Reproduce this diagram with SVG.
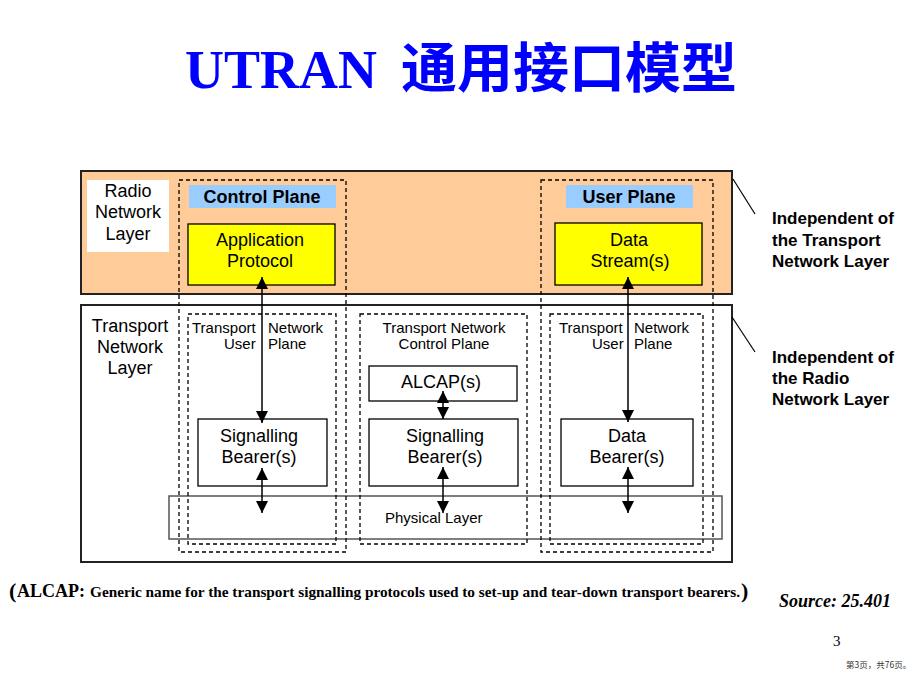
<svg xmlns="http://www.w3.org/2000/svg" width="920" height="690" viewBox="0 0 920 690">
<defs>
<style>
.t{font-family:"Liberation Sans",Arial,sans-serif;fill:#000}
.m{font-size:18px;text-anchor:middle}
.s{font-size:15px}
.b{font-weight:bold}
.dash{fill:none;stroke:#000;stroke-width:1.3;stroke-dasharray:4,3}
.box{fill:#fff;stroke:#000;stroke-width:1.3}
.yel{fill:#FFFF00;stroke:#000;stroke-width:1.3}
.lbl{fill:#99CCFF}
.arr{stroke:#000;stroke-width:1.5;fill:none;marker-start:url(#ah);marker-end:url(#ah)}
</style>
<marker id="ah" markerUnits="userSpaceOnUse" markerWidth="12" markerHeight="12" refX="12" refY="6" orient="auto-start-reverse" viewBox="0 0 12 12">
<path d="M0,0 L12,6 L0,12 Z" fill="#000"/>
</marker>
</defs>
<rect width="920" height="690" fill="#fff"/>

<g id="title">
<text x="185" y="88" font-family="Liberation Serif,'Times New Roman',serif" font-weight="bold" font-size="54" fill="#0000FF">UTRAN</text>
<text x="401" y="88" font-family="'Noto Sans CJK SC',sans-serif" font-weight="bold" font-size="54" fill="#0000FF" textLength="336" lengthAdjust="spacingAndGlyphs">通用接口模型</text>
</g>

<g id="radio-layer">
<rect x="81" y="171" width="651" height="123" fill="#FFCC99" stroke="#222" stroke-width="2"/>
<rect x="87" y="180" width="82" height="72" fill="#fff"/>
<text class="t m" x="128" y="197">Radio</text>
<text class="t m" x="128" y="218">Network</text>
<text class="t m" x="128" y="240">Layer</text>
</g>

<g id="transport-layer">
<rect x="81" y="305" width="651" height="257" fill="none" stroke="#222" stroke-width="2"/>
<text class="t m" x="130" y="332">Transport</text>
<text class="t m" x="130" y="353">Network</text>
<text class="t m" x="130" y="374">Layer</text>
</g>

<g id="physical-layer">
<rect x="169" y="496" width="553" height="43" fill="none" stroke="#555" stroke-width="1.5"/>
<text class="t s" x="385" y="523">Physical Layer</text>
</g>

<g id="control-plane">
<rect class="dash" x="179" y="180" width="167" height="372"/>
<rect class="lbl" x="189" y="185" width="147" height="23"/>
<text class="t m b" x="262" y="203">Control Plane</text>
</g>

<g id="user-plane">
<rect class="dash" x="541" y="180" width="172" height="372"/>
<rect class="lbl" x="566" y="185" width="127" height="23"/>
<text class="t m b" x="629" y="203">User Plane</text>
</g>

<g id="application-protocol">
<rect class="yel" x="188" y="224" width="147" height="61"/>
<text class="t m" x="260" y="246">Application</text>
<text class="t m" x="260" y="267">Protocol</text>
</g>

<g id="data-streams">
<rect class="yel" x="555" y="223" width="147" height="62"/>
<text class="t m" x="629" y="246">Data</text>
<text class="t m" x="630" y="267">Stream(s)</text>
</g>

<g id="tn-user-plane-left">
<rect class="dash" x="188" y="314" width="148" height="230"/>
<text class="t s" x="192" y="333">Transport</text>
<text class="t s" x="268" y="333">Network</text>
<text class="t s" x="224" y="349">User</text>
<text class="t s" x="268" y="349">Plane</text>
</g>

<g id="tn-control-plane">
<rect class="dash" x="360" y="314" width="167" height="230"/>
<text class="t s" x="444" y="333" text-anchor="middle">Transport Network</text>
<text class="t s" x="444" y="349" text-anchor="middle">Control Plane</text>
</g>

<g id="tn-user-plane-right">
<rect class="dash" x="550" y="314" width="153" height="230"/>
<text class="t s" x="559" y="333">Transport</text>
<text class="t s" x="634" y="333">Network</text>
<text class="t s" x="592" y="349">User</text>
<text class="t s" x="634" y="349">Plane</text>
</g>

<g id="signalling-bearer-left">
<rect class="box" x="198" y="419" width="129" height="67"/>
<text class="t m" x="259" y="442">Signalling</text>
<text class="t m" x="259" y="463">Bearer(s)</text>
</g>

<g id="alcap">
<rect class="box" x="369" y="366" width="148" height="35"/>
<text class="t m" x="441" y="388">ALCAP(s)</text>
</g>

<g id="signalling-bearer-mid">
<rect class="box" x="369" y="419" width="149" height="67"/>
<text class="t m" x="445" y="442">Signalling</text>
<text class="t m" x="445" y="463">Bearer(s)</text>
</g>

<g id="data-bearer">
<rect class="box" x="561" y="419" width="132" height="67"/>
<text class="t m" x="627" y="442">Data</text>
<text class="t m" x="627" y="463">Bearer(s)</text>
</g>

<g id="connectors">
<line class="arr" x1="262" y1="277" x2="262" y2="423"/>
<line class="arr" x1="262" y1="468" x2="262" y2="513"/>
<line class="arr" x1="443" y1="391" x2="443" y2="419"/>
<line class="arr" x1="443" y1="467" x2="443" y2="513"/>
<line class="arr" x1="628" y1="277" x2="628" y2="422"/>
<line class="arr" x1="628" y1="467" x2="628" y2="513"/>
<line x1="733" y1="179" x2="755" y2="214" stroke="#000" stroke-width="1.2"/>
<line x1="732" y1="317" x2="755" y2="352" stroke="#000" stroke-width="1.2"/>
</g>

<g id="note-radio">
<text class="t b" font-size="17" x="772" y="224">Independent of</text>
<text class="t b" font-size="17" x="772" y="246">the Transport</text>
<text class="t b" font-size="17" x="772" y="267">Network Layer</text>
</g>

<g id="note-transport">
<text class="t b" font-size="17" x="772" y="363">Independent of</text>
<text class="t b" font-size="17" x="772" y="384">the Radio</text>
<text class="t b" font-size="17" x="772" y="405">Network Layer</text>
</g>

<g id="footer" font-family="Liberation Serif,'Times New Roman',serif">
<text x="9" y="598" font-weight="bold" font-size="22">(</text>
<text x="17" y="597" font-weight="bold" font-size="18">ALCAP:</text>
<text x="90" y="597" font-weight="bold" font-size="14.5" textLength="650" lengthAdjust="spacingAndGlyphs">Generic name for the transport signalling protocols used to set-up and tear-down transport bearers.</text>
<text x="741" y="598" font-weight="bold" font-size="22">)</text>
<text x="779" y="607" font-weight="bold" font-style="italic" font-size="18">Source: 25.401</text>
<text x="833" y="646" font-size="15">3</text>
<text x="846" y="668" font-family="'Noto Sans CJK SC',sans-serif" font-size="8.5" fill="#333">第3页，共76页。</text>
</g>
</svg>
